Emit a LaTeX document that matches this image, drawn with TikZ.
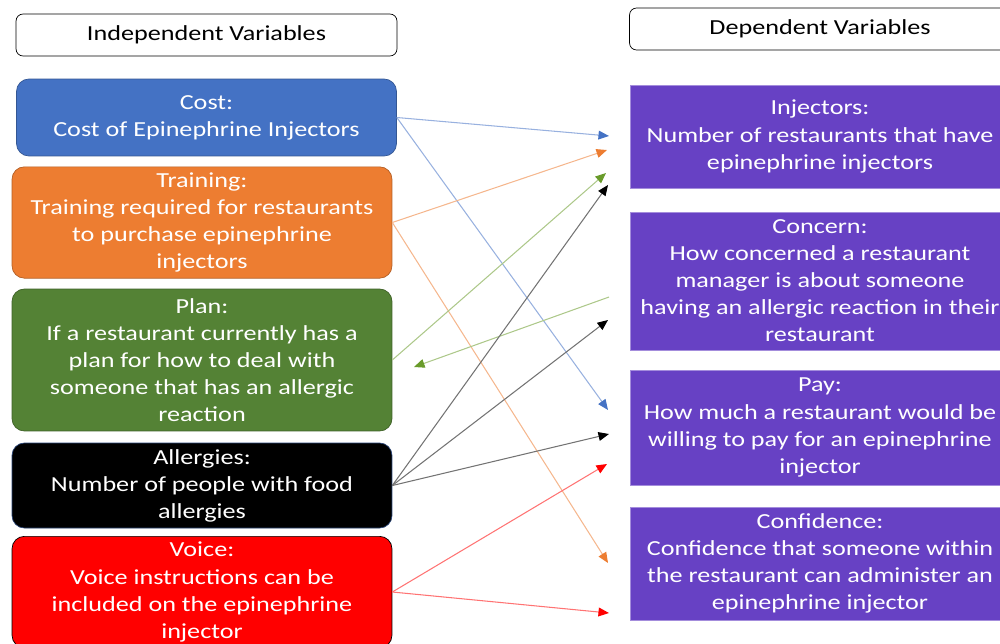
\documentclass[tikz,border=0pt]{standalone}
\usepackage{fontspec}
\setmainfont{Carlito}[FakeStretch=1.22]
\usetikzlibrary{positioning,arrows.meta}
\definecolor{costblue}{HTML}{4472C4}
\definecolor{trainorange}{HTML}{ED7D31}
\definecolor{plangreen}{HTML}{548235}
\definecolor{voicered}{HTML}{FF0000}
\definecolor{deppurple}{HTML}{6741C4}
\newcommand{\varfont}{\fontsize{12.2}{15.4}\selectfont}

\begin{document}
\begin{tikzpicture}[x=0.02cm, y=-0.02cm,
        header/.style={rectangle, rounded corners=4pt, draw=black, fill=white, text=black, minimum width=7.62cm, minimum height=0.84cm, font=\varfont},
        indep/.style={rectangle, rounded corners=7pt, draw=#1!75!black, fill=#1, text=white, minimum width=7.6cm, align=center, font=\varfont},
        dep/.style={rectangle, draw=deppurple!60!white, fill=deppurple, text=white, minimum width=7.6cm, align=center, font=\varfont},
        link/.style={draw=#1!55!white, line width=0.6pt, -{Triangle[length=6pt, width=5pt, color=#1]}}
    ]
    \path[use as bounding box, clip] (0,0) rectangle (1000,643);

    % Left column - independent variables
    \node[header] (indhead) at (206.5,35) {Independent Variables};
    \node[indep=costblue, minimum height=1.54cm] (cost) at (206.5,117.5) {Cost:\\Cost of Epinephrine Injectors};
    \node[indep=trainorange, minimum height=2.22cm] (training) at (202,222.5) {Training:\\Training required for restaurants\\to purchase epinephrine\\injectors};
    \node[indep=plangreen, minimum height=2.84cm] (plan) at (202,360) {Plan:\\If a restaurant currently has a\\plan for how to deal with\\someone that has an allergic\\reaction};
    \node[indep=black, draw=costblue!60!black, minimum height=1.7cm] (allergies) at (202,485.5) {Allergies:\\Number of people with food\\allergies};
    \node[indep=voicered, draw=black, minimum height=2.12cm] (voice) at (202,592) {Voice:\\Voice instructions can be\\included on the epinephrine\\injector};

    % Right column - dependent variables
    \node[header] (dephead) at (820,29) {Dependent Variables};
    \node[dep, minimum height=2.06cm] (injectors) at (820,136.5) {Injectors:\\Number of restaurants that have\\epinephrine injectors};
    \node[dep, minimum height=2.76cm] (concern) at (820,281) {Concern:\\How concerned a restaurant\\manager is about someone\\having an allergic reaction in their\\restaurant};
    \node[dep, minimum height=2.3cm] (pay) at (820,427.5) {Pay:\\How much a restaurant would be\\willing to pay for an epinephrine\\injector};
    \node[dep, minimum height=2.26cm] (confidence) at (820,563.5) {Confidence:\\Confidence that someone within\\the restaurant can administer an\\epinephrine injector};

    % free arrow ends
    \coordinate (injA) at (609,136);
    \coordinate (injB) at (607,150);
    \coordinate (injC) at (606,173);
    \coordinate (injD) at (608,185);
    \coordinate (conA) at (609,297);
    \coordinate (conB) at (608,320);
    \coordinate (payA) at (608,410);
    \coordinate (payB) at (609,434);
    \coordinate (payC) at (607,464);
    \coordinate (confA) at (608,563);
    \coordinate (confB) at (609,613);
    \coordinate (planIn) at (414,367);

    % Links
    \draw[link=costblue] (cost.east) -- (injA);
    \draw[link=costblue] (cost.east) -- (payA);
    \draw[link=trainorange] (training.east) -- (injB);
    \draw[link=trainorange] (training.east) -- (confA);
    \draw[link=plangreen!80!lime] (plan.east) -- (injC);
    \draw[link=plangreen!80!lime] (conA) -- (planIn);
    \draw[link=black] (allergies.east) -- (injD);
    \draw[link=black] (allergies.east) -- (conB);
    \draw[link=black] (allergies.east) -- (payB);
    \draw[link=voicered] (voice.east) -- (payC);
    \draw[link=voicered] (voice.east) -- (confB);
\end{tikzpicture}
\end{document}
